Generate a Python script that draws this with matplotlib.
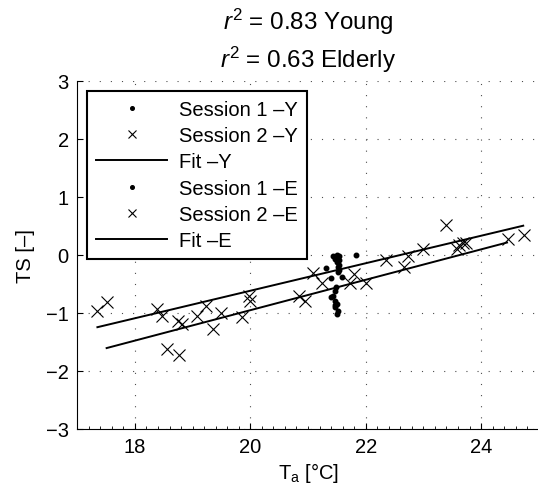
import matplotlib
matplotlib.use('Agg')
import matplotlib.pyplot as plt
from matplotlib.ticker import MultipleLocator

plt.rcParams['font.family'] = ['Liberation Sans', 'DejaVu Sans']
plt.rcParams['mathtext.fontset'] = 'custom'
plt.rcParams['mathtext.rm'] = 'Liberation Sans'
plt.rcParams['mathtext.it'] = 'Liberation Sans:italic'
plt.rcParams['font.size'] = 14.5

# session 1 (dots, all near 21.5 degC)
s1_young_x = [21.44, 21.50, 21.53, 21.47, 21.54, 21.50, 21.53, 21.52, 21.54, 21.84, 21.32, 21.52]
s1_young_y = [-0.02, 0.00, -0.03, -0.07, -0.10, -0.13, -0.17, -0.22, -0.26, 0.00, -0.23, -0.30]
s1_eld_x = [21.40, 21.59, 21.48, 21.46, 21.44, 21.40, 21.47, 21.46, 21.50, 21.47, 21.52, 21.50]
s1_eld_y = [-0.40, -0.39, -0.56, -0.62, -0.71, -0.73, -0.79, -0.86, -0.85, -0.91, -0.97, -1.02]

# session 2 (crosses)
s2_young_x = [17.35, 17.51, 18.39, 18.47, 19.24, 19.98, 20.00, 21.08, 21.80, 22.36, 22.74,
              22.99, 23.40, 23.62, 23.69, 23.74, 24.75]
s2_young_y = [-0.97, -0.82, -0.94, -1.05, -0.88, -0.72, -0.79, -0.32, -0.33, -0.10, -0.02,
              0.09, 0.51, 0.17, 0.21, 0.20, 0.34]
s2_eld_x = [18.74, 18.82, 18.56, 18.77, 19.07, 19.35, 19.49, 19.85, 20.85, 20.94, 21.24,
            21.72, 22.01, 22.66, 23.59, 24.46]
s2_eld_y = [-1.14, -1.19, -1.63, -1.73, -1.05, -1.28, -1.01, -1.07, -0.71, -0.79, -0.49,
            -0.48, -0.49, -0.22, 0.10, 0.27]

# fitted lines (end points)
fit_young_x = [17.35, 24.73]
fit_young_y = [-1.25, 0.50]
fit_eld_x = [17.51, 24.45]
fit_eld_y = [-1.61, 0.21]

fig = plt.figure(figsize=(5.38, 4.89), dpi=100)
ax = fig.add_axes([0.1435, 0.1213, 0.858, 0.7116])

ax.plot(s1_young_x, s1_young_y, '.', color='k', ms=6.5, label='Session 1 \u2013Y')
ax.plot(s2_young_x, s2_young_y, 'x', color='k', ms=8, mew=0.8, label='Session 2 \u2013Y')
ax.plot(fit_young_x, fit_young_y, '-', color='k', lw=1.4, label='Fit \u2013Y')
ax.plot(s1_eld_x, s1_eld_y, '.', color='k', ms=6.5, label='Session 1 \u2013E')
ax.plot(s2_eld_x, s2_eld_y, 'x', color='k', ms=8, mew=0.8, label='Session 2 \u2013E')
ax.plot(fit_eld_x, fit_eld_y, '-', color='k', lw=1.4, label='Fit \u2013E')

ax.set_xlim(17, 25)
ax.set_ylim(-3, 3)
ax.set_xticks([18, 20, 22, 24])
ax.set_yticks([-3, -2, -1, 0, 1, 2, 3])
ax.set_yticklabels(['\u22123', '\u22122', '\u22121', '0', '1', '2', '3'])
ax.xaxis.set_minor_locator(MultipleLocator(0.2))
ax.tick_params(which='major', direction='in', length=4, width=0.8, pad=6)
ax.tick_params(which='minor', direction='in', length=2, width=0.6)
ax.spines['top'].set_visible(False)
ax.spines['right'].set_visible(False)
ax.grid(True, which='major', linestyle=(0, (1, 9)), color='0.3', lw=0.8)

ax.set_xlabel('T$_{\\mathrm{a}}$ [\u00b0C]', labelpad=3)
ax.set_ylabel('TS [\u2013]', labelpad=8)
ax.set_title('$r^2$ = 0.83 Young\n$r^2$ = 0.63 Elderly', linespacing=1.35, pad=10)

leg = ax.legend(loc='upper left', borderaxespad=0.5, handlelength=3.5, handletextpad=0.6,
                labelspacing=0.36, fancybox=False, framealpha=1, borderpad=0.45,
                markerscale=0.8)
leg.get_frame().set_edgecolor('k')
leg.get_frame().set_linewidth(1.5)

fig.savefig('out.png', dpi=100)
